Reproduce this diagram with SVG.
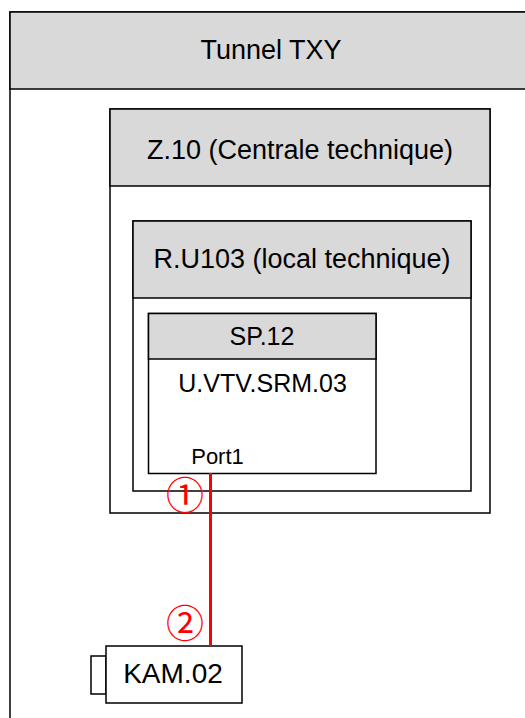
<svg xmlns="http://www.w3.org/2000/svg" width="525" height="718" viewBox="0 0 525 718">
  <style>
    .box { fill: #ffffff; stroke: #000000; stroke-width: 1.5; }
    .hdr { fill: #d9d9d9; stroke: #000000; stroke-width: 1.5; }
    .t { font-family: "Liberation Sans", Arial, sans-serif; fill: #000000; text-anchor: middle; }
    .num { font-family: "Noto Sans CJK JP", "DejaVu Sans", sans-serif; fill: #ff0000; text-anchor: middle; font-size: 38px; }
    .wire { stroke: #ff0000; stroke-width: 3; fill: none; }
  </style>
  <rect x="0" y="0" width="525" height="718" fill="#ffffff"/>

  <g id="tunnel">
    <rect class="box" x="10" y="12" width="530" height="720"/>
    <rect class="hdr" x="10" y="12" width="530" height="77"/>
    <text class="t" x="271" y="59" font-size="27">Tunnel TXY</text>
  </g>

  <g id="z10">
    <rect class="box" x="110" y="109" width="380" height="404"/>
    <rect class="hdr" x="110" y="109" width="380" height="77"/>
    <text class="t" x="300" y="159" font-size="27">Z.10 (Centrale technique)</text>
  </g>

  <g id="ru103">
    <rect class="box" x="133" y="221" width="338" height="270"/>
    <rect class="hdr" x="133" y="221" width="338" height="77"/>
    <text class="t" x="302" y="268" font-size="27">R.U103 (local technique)</text>
  </g>

  <g id="sp12">
    <rect class="box" x="148.5" y="313.5" width="227.5" height="160"/>
    <rect class="hdr" x="148.5" y="313.5" width="227.5" height="45.5"/>
    <text class="t" x="262" y="345" font-size="25">SP.12</text>
    <text class="t" x="262.5" y="392" font-size="25">U.VTV.SRM.03</text>
    <text class="t" x="217.5" y="464" font-size="22">Port1</text>
  </g>

  <g id="kam02">
    <rect class="box" x="91" y="656" width="15" height="38"/>
    <rect class="box" x="106" y="646" width="136" height="57"/>
    <text class="t" x="173" y="683" font-size="28">KAM.02</text>
  </g>

  <g id="connectors">
    <line class="wire" x1="210.5" y1="473" x2="210.5" y2="646"/>
    <text class="num" x="185" y="509">①</text>
    <text class="num" x="185" y="637">②</text>
  </g>
</svg>
